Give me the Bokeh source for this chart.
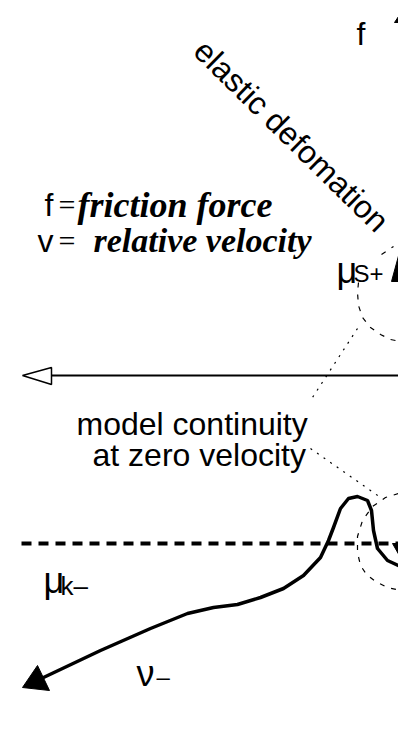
from bokeh.plotting import figure
from bokeh.models import Range1d
from bokeh.core.properties import value
from bokeh.embed import file_html
from bokeh.resources import INLINE

# ---- data (in picture pixel units) ----
# friction curve for negative velocity (solid)
curve_x = [43, 100, 150, 187, 213, 237, 260, 283, 303, 320, 328, 333, 340, 348, 357, 367, 371, 373, 377, 387, 400]
curve_y = [677, 650, 628, 613, 607, 604, 597, 588, 575, 557, 540, 527, 508, 498, 496, 500, 510, 530, 548, 560, 566]
# arrow head of that curve
head_x = [22, 37, 49]
head_y = [687, 665, 690]
# horizontal (velocity) axis
axis_y = 375
axis_x0, axis_x1 = 51, 400
open_head_x = [22, 51, 51]
open_head_y = [375, 367, 384]
# kinetic friction level (dashed)
mu_k_level = 543
mu_k_x0, mu_k_x1 = 21, 400
# dashed circles near zero velocity
upper_arc_x = [358, 357, 358, 362, 370, 380, 390, 400]
upper_arc_y = [282, 292, 305, 317, 327, 334, 339, 341]
upper_tick_x = [381, 393]
upper_tick_y = [254, 246]
lower_arc_x = [398, 385, 372, 362, 357, 357, 360, 366, 375, 387, 400]
lower_arc_y = [493, 497, 506, 520, 536, 552, 565, 574, 581, 587, 590]
# dotted leader lines
lead1_x = [357, 310]
lead1_y = [328, 400]
lead2_x = [310, 380]
lead2_y = [448, 497]
# partial arrow heads at the right edge
tri1_x = [391, 400, 400]
tri1_y = [281, 248, 281]
tri2_x = [392, 400, 400]
tri2_y = [543, 543, 557]
tri3_x = [394, 400, 400]
tri3_y = [22, 13, 22]

W, H = 398, 751
p = figure(width=W, height=H, output_backend="svg", toolbar_location=None,
           x_range=Range1d(0, 398), y_range=Range1d(751, 0),
           min_border=0, outline_line_color=None)
p.axis.visible = False
p.grid.visible = False
p.background_fill_color = "white"
p.border_fill_color = "white"

SANS = value("Liberation Sans")
SERIF = value("Liberation Serif")

# axis
p.line([axis_x0, axis_x1], [axis_y, axis_y], line_color="black", line_width=2)
p.patch(open_head_x, open_head_y, fill_color="white", line_color="black", line_width=1.5)

# dashed mu_k level
p.line([mu_k_x0, mu_k_x1], [mu_k_level, mu_k_level], line_color="black",
       line_width=4, line_dash="10 7")

# dashed arcs and dotted leaders
p.line(upper_arc_x, upper_arc_y, line_color="black", line_width=1.2, line_dash="5 7")
p.line(upper_tick_x, upper_tick_y, line_color="black", line_width=1.2, line_dash="5 7")
p.line(lower_arc_x, lower_arc_y, line_color="black", line_width=1.2, line_dash="5 7")
p.line(lead1_x, lead1_y, line_color="black", line_width=1.2, line_dash="2 6")
p.line(lead2_x, lead2_y, line_color="black", line_width=1.2, line_dash="2 6")

# curve
p.line(curve_x, curve_y, line_color="black", line_width=3.5, line_join="round", line_cap="round")
p.patch(head_x, head_y, fill_color="black", line_color="black")
for tx, ty in ((tri1_x, tri1_y), (tri2_x, tri2_y), (tri3_x, tri3_y)):
    p.patch(tx, ty, fill_color="black", line_color="black")

def txt(x, y, s, size, font=SANS, style="normal", angle=0, baseline="alphabetic", align="left"):
    p.text(x=[x], y=[y], text=[s], text_font=font, text_font_size=size,
           text_font_style=style, text_baseline=baseline, text_align=align,
           angle=angle, angle_units="deg", text_color="black")

# labels
txt(356, 33, "f", "32px")
txt(199, 45, "elastic defomation", "32px", angle=-44.5)
txt(44, 204, "f", "32px")
txt(58, 204, "=", "30px", font=SERIF)
txt(77, 204, "friction force", "36px", font=SERIF, style="bold italic")
txt(37, 240, "v", "32px")
txt(58, 240, "=", "30px", font=SERIF)
txt(93, 240, "relative velocity", "34px", font=SERIF, style="bold italic")
txt(336, 270, "\u03bc", "36px")
txt(353, 273, "S+", "24px")
txt(76, 423, "model continuity", "32px")
txt(92, 454, "at zero velocity", "32px")
txt(43, 580, "\u03bc", "36px")
txt(60, 585, "k\u2013", "26px")
txt(136, 673, "\u03bd", "36px")
txt(156, 676, "\u2013", "24px")

open("out.html", "w").write(file_html(p, INLINE))
